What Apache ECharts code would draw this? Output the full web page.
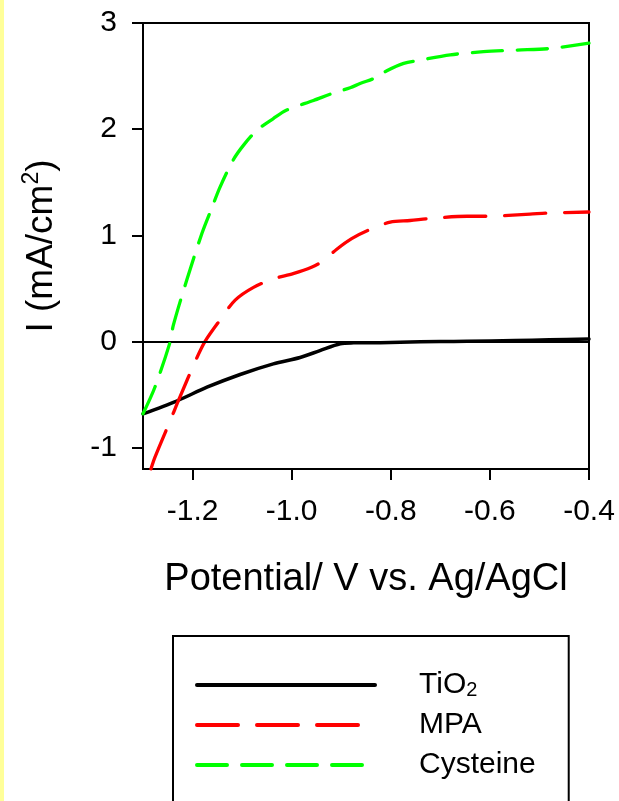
<!DOCTYPE html>
<html>
<head>
<meta charset="utf-8">
<script src="https://cdn.jsdelivr.net/npm/echarts@6/dist/echarts.min.js"></script>
<style>
  html, body { margin: 0; padding: 0; background: #fff; }
  #chart { width: 619px; height: 801px; background: linear-gradient(to right, #ffff99 0px, #ffff99 4px, #ffffff 4px); }
</style>
</head>
<body>
<div id="chart"></div>
<script>
// ---- data ----
var seriesNames = ['TiO2', 'MPA', 'Cysteine'];

var tio2X = [-1.3, -1.232, -1.171, -1.104, -1.037, -0.983, -0.943, -0.902, -0.875, -0.821, -0.781, -0.7, -0.646, -0.55, -0.48, -0.4];
var tio2Y = [-0.68, -0.56, -0.43, -0.31, -0.21, -0.15, -0.085, -0.02, -0.012, -0.01, -0.006, 0.0, 0.003, 0.01, 0.017, 0.025];

var mpaX = [-1.284, -1.276, -1.242, -1.229, -1.192, -1.175, -1.145, -1.114, -1.077, -1.037, -0.997, -0.96, -0.936, -0.909, -0.879, -0.842, -0.801, -0.761, -0.72, -0.646, -0.606, -0.519, -0.485, -0.4];
var mpaY = [-1.2, -1.09, -0.71, -0.56, -0.16, 0.0, 0.2, 0.39, 0.51, 0.59, 0.64, 0.70, 0.76, 0.87, 0.97, 1.055, 1.125, 1.14, 1.16, 1.18, 1.18, 1.2, 1.21, 1.22];

var cysX = [-1.3, -1.276, -1.245, -1.239, -1.212, -1.181, -1.161, -1.145, -1.118, -1.097, -1.07, -1.037, -1.01, -0.956, -0.916, -0.882, -0.862, -0.828, -0.808, -0.774, -0.741, -0.68, -0.613, -0.546, -0.478, -0.4];
var cysY = [-0.68, -0.43, 0.0, 0.15, 0.575, 1.02, 1.26, 1.45, 1.71, 1.85, 1.99, 2.10, 2.18, 2.27, 2.34, 2.39, 2.43, 2.49, 2.55, 2.62, 2.65, 2.70, 2.73, 2.745, 2.76, 2.81];

var xTickValues = [-1.2, -1.0, -0.8, -0.6, -0.4];
var yTickValues = [-1, 0, 1, 2, 3];
var xAxisTitle = 'Potential/ V vs. Ag/AgCl';
var yAxisTitle = ['I (mA/cm', '2', ')'];

function pairs(xs, ys) {
  var out = [];
  for (var i = 0; i < xs.length; i++) out.push([xs[i], ys[i]]);
  return out;
}

var FONT = '"Liberation Sans", Arial, sans-serif';
var chart = echarts.init(document.getElementById('chart'), null, { renderer: 'canvas' });

var option = {
  animation: false,
  backgroundColor: 'transparent',
  textStyle: { fontFamily: FONT, color: '#000' },
  grid: {
    left: 143, right: 30, top: 23, bottom: 332,
    show: true, borderColor: '#000', borderWidth: 2, backgroundColor: 'transparent',
    containLabel: false, outerBoundsMode: 'none'
  },
  xAxis: {
    type: 'value', min: -1.3, max: -0.4,
    name: xAxisTitle, nameLocation: 'middle', nameGap: 92,
    nameTextStyle: { fontSize: 38, color: '#000', fontFamily: FONT },
    axisLine: { show: true, onZero: false, lineStyle: { color: '#000', width: 2 } },
    axisTick: { show: true, inside: false, length: 11, lineStyle: { color: '#000', width: 2 }, customValues: xTickValues },
    axisLabel: { show: true, fontSize: 30, color: '#000', fontFamily: FONT, margin: 28, customValues: xTickValues,
      formatter: function (v) { return v.toFixed(1); } },
    splitLine: { show: false }
  },
  yAxis: {
    type: 'value', min: -1.2, max: 3,
    name: '{n|' + yAxisTitle[0] + '}{s|' + yAxisTitle[1] + '}{n|' + yAxisTitle[2] + '}',
    nameLocation: 'middle', nameGap: 83,
    nameTextStyle: {
      fontSize: 37, color: '#000', fontFamily: FONT,
      rich: {
        n: { fontSize: 37, color: '#000', fontFamily: FONT, lineHeight: 40, verticalAlign: 'bottom' },
        s: { fontSize: 23, color: '#000', fontFamily: FONT, lineHeight: 22, verticalAlign: 'top' }
      }
    },
    axisLine: { show: true, onZero: false, lineStyle: { color: '#000', width: 2 } },
    axisTick: { show: true, inside: false, length: 11, lineStyle: { color: '#000', width: 2 }, customValues: yTickValues },
    axisLabel: { show: true, fontSize: 30, color: '#000', fontFamily: FONT, margin: 26, customValues: yTickValues,
      formatter: function (v) { return String(v); } },
    splitLine: { show: false }
  },
  legend: {
    orient: 'vertical', left: 173, top: 636, height: 400,
    padding: [26, 33, 60, 22],
    itemGap: 10, itemWidth: 178, itemHeight: 14,
    borderColor: '#000', borderWidth: 2, borderRadius: 0,
    backgroundColor: 'transparent',
    selectedMode: false,
    itemStyle: { opacity: 0 },
    lineStyle: { width: 4 },
    data: seriesNames,
    formatter: function (name) {
      if (name === 'TiO2') return '{t|TiO}{b|2}';
      return '{n|' + name + '}';
    },
    textStyle: {
      fontSize: 30, color: '#000', fontFamily: FONT, padding: [0, 0, 0, 39],
      rich: {
        n: { fontSize: 30, color: '#000', fontFamily: FONT, lineHeight: 30 },
        t: { fontSize: 30, color: '#000', fontFamily: FONT, lineHeight: 30, verticalAlign: 'top' },
        b: { fontSize: 20, color: '#000', fontFamily: FONT, lineHeight: 20, verticalAlign: 'bottom', padding: [18, 0, 0, 0] }
      }
    }
  },
  series: [
    {
      name: seriesNames[0], type: 'line', data: pairs(tio2X, tio2Y),
      symbol: 'none', showSymbol: false, smooth: 0.3, z: 3,
      lineStyle: { color: '#000', width: 3.5, type: 'solid', cap: 'round', join: 'round' },
      itemStyle: { color: '#000' },
      emphasis: { disabled: true },
      markLine: {
        silent: true, symbol: ['none', 'none'], animation: false,
        label: { show: false },
        lineStyle: { color: '#000', width: 2, type: 'solid' },
        emphasis: { disabled: true },
        data: [{ yAxis: 0 }]
      }
    },
    {
      name: seriesNames[1], type: 'line', data: pairs(mpaX, mpaY),
      symbol: 'none', showSymbol: false, smooth: 0.3, z: 4,
      lineStyle: { color: '#ff0000', width: 3.3, type: [41, 19], cap: 'round', join: 'round' },
      itemStyle: { color: '#ff0000' },
      emphasis: { disabled: true }
    },
    {
      name: seriesNames[2], type: 'line', data: pairs(cysX, cysY),
      symbol: 'none', showSymbol: false, smooth: 0.3, z: 5,
      lineStyle: { color: '#00ff00', width: 3.3, type: [30, 15], cap: 'round', join: 'round' },
      itemStyle: { color: '#00ff00' },
      emphasis: { disabled: true }
    }
  ]
};
chart.setOption(option);
</script>
</body>
</html>
